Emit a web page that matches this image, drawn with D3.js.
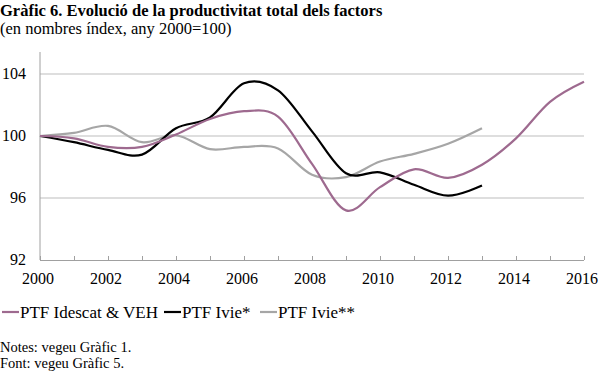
<html>
  <head>
    <script src="https://d3js.org/d3.v7.min.js"></script>
    <style>
      body { margin: 0; background: #fff; }
      text { font-family: "Liberation Serif", "Times New Roman", serif; }
    </style>
  </head>
  <body>
    <svg id="chart" width="600" height="373"></svg>
    <script>
      // data
      var years = d3.range(2000, 2017);
      var idescat = [100, 99.85, 99.3, 99.3, 100.1, 101.1, 101.6, 101.25, 98.2, 95.2, 96.7, 97.85, 97.3, 98.15, 99.85, 102.2, 103.5];
      var ivie1 = [100, 99.6, 99.1, 98.8, 100.5, 101.2, 103.4, 102.95, 100.3, 97.6, 97.65, 96.85, 96.15, 96.8];
      var ivie2 = [100, 100.2, 100.65, 99.6, 100.05, 99.15, 99.3, 99.2, 97.5, 97.35, 98.35, 98.85, 99.5, 100.5];
      var yTicks = [92, 96, 100, 104];
      var xTicks = [2000, 2002, 2004, 2006, 2008, 2010, 2012, 2014, 2016];
      var seriesNames = ["PTF Idescat & VEH", "PTF Ivie*", "PTF Ivie**"];
      var seriesColors = ["#9e6a8f", "#000000", "#a6a6a6"];

      var svg = d3.select("#chart");
      var x = d3.scaleLinear().domain([2000, 2016]).range([40, 584]);
      var y = d3.scaleLinear().domain([92, 104]).range([260, 74]);

      svg.append("text").attr("x", 0).attr("y", 16)
        .style("font-size", "16.5px").style("font-weight", "bold")
        .text("Gràfic 6. Evolució de la productivitat total dels factors");
      svg.append("text").attr("x", 0).attr("y", 34)
        .style("font-size", "16.5px")
        .text("(en nombres índex, any 2000=100)");

      // gridlines
      svg.selectAll(".grid").data(yTicks.filter(function (d) { return d > 92; }))
        .enter().append("line")
        .attr("x1", x(2000)).attr("x2", x(2016))
        .attr("y1", function (d) { return y(d); }).attr("y2", function (d) { return y(d); })
        .attr("stroke", "#bdbdbd").attr("stroke-width", 1);

      // axes
      var ax = svg.append("g").attr("transform", "translate(0," + y(92) + ")")
        .call(d3.axisBottom(x).tickValues(d3.range(2000, 2017)).tickSize(4).tickFormat(""));
      ax.selectAll("line").attr("stroke", "#a0a0a0").attr("transform", "translate(0,-4)");
      ax.select(".domain").attr("d", "M" + x(2000) + ",0.5H" + x(2016)).attr("stroke", "#a0a0a0");

      svg.append("line").attr("x1", x(2000)).attr("x2", x(2000))
        .attr("y1", 52).attr("y2", y(92)).attr("stroke", "#a0a0a0");

      svg.selectAll(".xl").data(xTicks).enter().append("text")
        .attr("x", function (d) { return x(d) - 2; }).attr("y", 284)
        .attr("text-anchor", "middle").style("font-size", "16px")
        .text(function (d) { return d; });
      svg.selectAll(".yl").data(yTicks).enter().append("text")
        .attr("x", 26).attr("y", function (d) { return y(d) + 5; })
        .attr("text-anchor", "end").style("font-size", "16px")
        .text(function (d) { return d; });

      var line = d3.line()
        .x(function (d, i) { return x(2000 + i); })
        .y(function (d) { return y(d); })
        .curve(d3.curveCardinal.tension(0));

      [idescat, ivie1, ivie2].reverse().forEach(function (s, k) {
        var idx = 2 - k;
        svg.append("path").attr("d", line(s)).attr("fill", "none")
          .attr("stroke", seriesColors[idx]).attr("stroke-width", 2.2);
      });

      // legend
      var lx = [2, 164, 260];
      seriesNames.forEach(function (n, i) {
        svg.append("line").attr("x1", lx[i]).attr("x2", lx[i] + 17)
          .attr("y1", 312).attr("y2", 312)
          .attr("stroke", seriesColors[i]).attr("stroke-width", 2.2);
        svg.append("text").attr("x", lx[i] + 18).attr("y", 318)
          .style("font-size", "17px").text(n);
      });

      svg.append("text").attr("x", 0).attr("y", 352).style("font-size", "14.5px")
        .text("Notes: vegeu Gràfic 1.");
      svg.append("text").attr("x", 0).attr("y", 368).style("font-size", "14.5px")
        .text("Font: vegeu Gràfic 5.");
    </script>
  </body>
</html>
